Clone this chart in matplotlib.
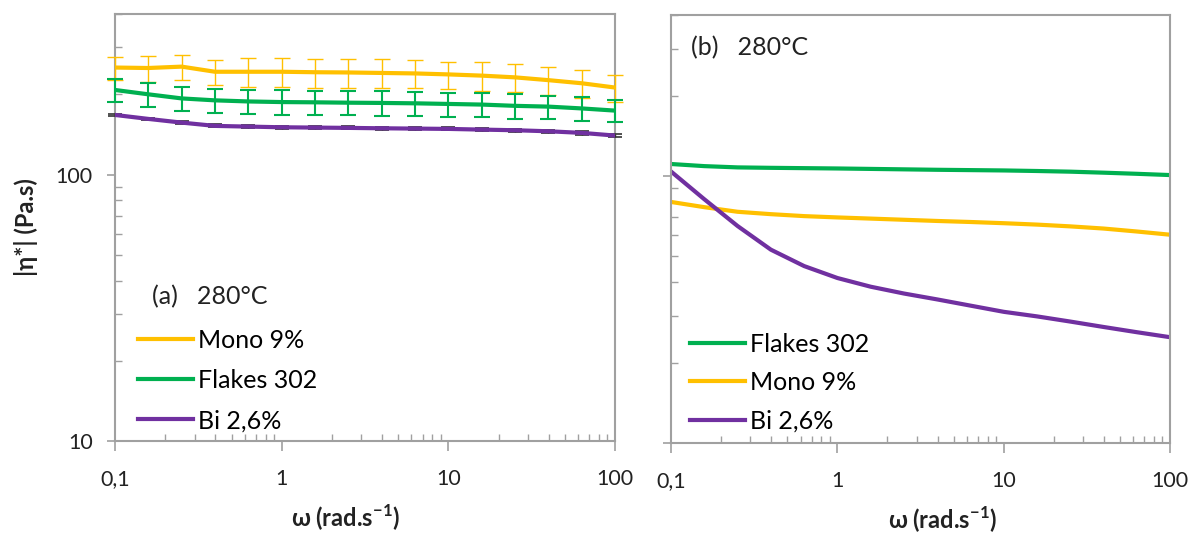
import matplotlib
matplotlib.use("Agg")
import matplotlib.pyplot as plt
import numpy as np
from matplotlib.ticker import FixedLocator, FixedFormatter, LogLocator, NullFormatter

plt.rcParams["font.family"] = ["Lato", "DejaVu Sans"]
plt.rcParams["mathtext.fontset"] = "custom"
plt.rcParams["mathtext.rm"] = "Lato"
plt.rcParams["mathtext.bf"] = "Lato:bold"

# angular frequency, 5 points per decade
omega = [0.1, 0.158, 0.251, 0.398, 0.631, 1.0, 1.585, 2.512, 3.981, 6.31,
         10.0, 15.85, 25.12, 39.81, 63.1, 100.0]

# (a) averaged data with error bars
mono_a = [252, 251, 254, 243, 243, 243, 242, 241.5, 240.5, 239.5,
          237.5, 235, 231.5, 226, 220, 212]
mono_a_err = [25, 28, 28, 27, 29.5, 30, 30, 30, 30, 28.5,
              28, 28.5, 28, 27, 27, 25]
flakes_a = [207.6, 200, 193, 189.8, 188, 187, 186.6, 186, 185.6, 185,
            184, 183, 181, 179.8, 177, 173.7]
flakes_a_err = [21, 20.5, 19.5, 19, 20, 20, 19, 19, 20, 19,
                19, 18.5, 19, 18, 18, 16.5]
bi_a = [167.3, 161.7, 156.6, 152.2, 151.3, 150.4, 150, 149.6, 149.1, 148.7,
        148.3, 147.4, 146.6, 145.3, 143.3, 140]
bi_a_err = [1.5, 1.5, 2, 2, 2, 2, 2, 2, 2, 2, 2, 2, 2, 2, 2, 2]

# (b) single runs
flakes_b = [111, 109, 107.8, 107.4, 107.1, 106.8, 106.4, 106.0, 105.6, 105.3,
            105, 104.5, 103.9, 103, 102, 100.9]
mono_b = [80, 76.5, 73.5, 72, 70.8, 70, 69.3, 68.6, 67.9, 67.3,
          66.6, 65.8, 64.8, 63.6, 62, 60.3]
bi_b = [104, 82, 65, 53, 46, 41.5, 38.5, 36.3, 34.5, 32.7,
        31, 29.8, 28.5, 27.2, 26, 24.9]

xticks = [0.1, 1, 10, 100]
xticklabels = ["0,1", "1", "10", "100"]

c_mono = "#FFC000"
c_flakes = "#00B050"
c_bi = "#7030A0"
grey = "#A0A0A0"
txt = "#222222"

fig = plt.figure(figsize=(11.92, 5.33), dpi=100)
ax1 = fig.add_axes([0.0965, 0.1726, 0.4195, 0.801])
ax2 = fig.add_axes([0.563, 0.169, 0.4186, 0.802])


def style_axes(ax, ylabels=True):
    ax.set_xscale("log")
    ax.set_yscale("log")
    ax.set_xlim(0.1, 100)
    ax.set_ylim(10, 400)
    for s in ax.spines.values():
        s.set_color(grey)
        s.set_linewidth(1.5)
    ax.xaxis.set_major_locator(FixedLocator(xticks))
    ax.xaxis.set_major_formatter(FixedFormatter(xticklabels))
    ax.xaxis.set_minor_locator(LogLocator(base=10, subs=np.arange(2, 10)))
    ax.xaxis.set_minor_formatter(NullFormatter())
    ax.yaxis.set_major_locator(FixedLocator([10, 100]))
    ax.yaxis.set_major_formatter(FixedFormatter(["10", "100"] if ylabels else ["", ""]))
    ax.yaxis.set_minor_locator(LogLocator(base=10, subs=np.arange(2, 10)))
    ax.yaxis.set_minor_formatter(NullFormatter())
    ax.tick_params(axis="x", which="major", direction="out", length=7, width=1.2,
                   color=grey, pad=13, labelsize=15.5, labelcolor=txt)
    ax.tick_params(axis="x", which="minor", direction="in", length=5, width=1.0,
                   color=grey)
    ax.tick_params(axis="y", which="major", direction="out", length=6, width=1.2,
                   color=grey, pad=10, labelsize=15.5, labelcolor=txt)
    ax.tick_params(axis="y", which="minor", direction="in", length=5, width=1.0,
                   color=grey)


style_axes(ax1, True)
style_axes(ax2, False)

# ---- panel (a)
e1 = ax1.errorbar(omega, mono_a, yerr=mono_a_err, color=c_mono, lw=3, ecolor=c_mono,
                  elinewidth=1, capsize=6, capthick=1, label="Mono 9%", zorder=3)
e2 = ax1.errorbar(omega, flakes_a, yerr=flakes_a_err, color=c_flakes, lw=3,
                  ecolor=c_flakes, elinewidth=1.5, capsize=6, capthick=1.5,
                  label="Flakes 302", zorder=4)
e3 = ax1.errorbar(omega, bi_a, yerr=bi_a_err, color=c_bi, lw=3, ecolor="#333333",
                  elinewidth=1, capsize=5, capthick=1.2, label="Bi 2,6%", zorder=5)
for e in (e1, e2, e3):
    for cl in e[1]:
        cl.set_clip_on(False)
    for bl in e[2]:
        bl.set_clip_on(False)

ax1.text(0.074, 0.337, "(a)   280°C", transform=ax1.transAxes, fontsize=18,
         ha="left", va="center", color=txt)
ax1.legend([e1[0], e2[0], e3[0]], ["Mono 9%", "Flakes 302", "Bi 2,6%"],
           loc="upper left", bbox_to_anchor=(0.046, 0.262), frameon=False,
           fontsize=18, handlelength=2.2, handletextpad=0.2,
           labelspacing=0.68, borderpad=0, borderaxespad=0)

ax1.set_ylabel("|η*| (Pa.s)", fontsize=17, fontweight="bold", color=txt)
ax1.yaxis.set_label_coords(-0.155, 0.5)
ax1.set_xlabel(r"ω (rad.s$^{\mathbf{-1}}$)", fontsize=17, fontweight="bold",
               color=txt)
ax1.xaxis.set_label_coords(0.46, -0.145)

# ---- panel (b)
l1, = ax2.plot(omega, flakes_b, color=c_flakes, lw=3, label="Flakes 302")
l2, = ax2.plot(omega, mono_b, color=c_mono, lw=3, label="Mono 9%")
l3, = ax2.plot(omega, bi_b, color=c_bi, lw=3, label="Bi 2,6%")

ax2.text(0.04, 0.925, "(b)   280°C", transform=ax2.transAxes, fontsize=18,
         ha="left", va="center", color=txt)
ax2.legend([l1, l2, l3], ["Flakes 302", "Mono 9%", "Bi 2,6%"],
           loc="upper left", bbox_to_anchor=(0.038, 0.258), frameon=False,
           fontsize=18, handlelength=2.2, handletextpad=0.2,
           labelspacing=0.62, borderpad=0, borderaxespad=0)

ax2.set_xlabel(r"ω (rad.s$^{\mathbf{-1}}$)", fontsize=17, fontweight="bold",
               color=txt)
ax2.xaxis.set_label_coords(0.543, -0.145)

fig.savefig("out.png", dpi=100)
